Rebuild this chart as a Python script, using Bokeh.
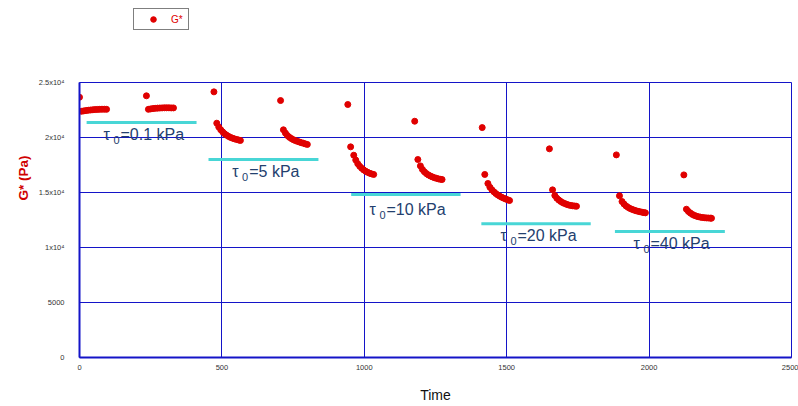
import math
from bokeh.plotting import figure
from bokeh.layouts import column
from bokeh.models import Range1d, FixedTicker, Legend, LegendItem, Title, ColumnDataSource
from bokeh.embed import file_html
from bokeh.resources import INLINE
from bokeh.core.properties import value

# ---- data: G* (Pa) vs time, ten creep/recovery steps ----
seg01_t = [0, 7, 15, 23, 31, 39, 47, 55, 63, 71, 79, 87, 95]
seg01_g = [23660, 22380, 22420, 22450, 22480, 22500, 22520, 22540, 22550, 22560, 22570, 22570, 22560]
seg02_t = [235, 242, 250, 258, 266, 274, 282, 290, 298, 306, 314, 322, 330]
seg02_g = [23790, 22560, 22600, 22630, 22650, 22670, 22680, 22690, 22700, 22700, 22700, 22690, 22690]
seg03_t = [472, 482, 489, 496, 503, 510, 517, 524, 531, 538, 545, 552, 559, 565]
seg03_g = [24150, 21300, 20950, 20700, 20500, 20330, 20200, 20090, 20000, 19930, 19870, 19820, 19770, 19730]
seg04_t = [706, 716, 723, 730, 737, 744, 751, 758, 765, 772, 779, 786, 793, 800]
seg04_g = [23360, 20700, 20400, 20180, 20020, 19900, 19800, 19720, 19650, 19590, 19530, 19480, 19420, 19370]
seg05_t = [942, 952, 963, 970, 977, 984, 991, 998, 1005, 1012, 1019, 1026, 1033]
seg05_g = [23000, 19150, 18390, 17950, 17620, 17380, 17200, 17050, 16930, 16830, 16750, 16690, 16640]
seg06_t = [1177, 1188, 1197, 1204, 1211, 1218, 1225, 1232, 1239, 1246, 1253, 1260, 1267, 1273]
seg06_g = [21480, 18000, 17420, 17100, 16880, 16720, 16600, 16500, 16420, 16350, 16290, 16240, 16200, 16180]
seg07_t = [1414, 1423, 1434, 1441, 1448, 1455, 1462, 1469, 1476, 1483, 1490, 1497, 1504, 1510]
seg07_g = [20900, 16640, 15820, 15480, 15250, 15060, 14900, 14770, 14660, 14560, 14480, 14400, 14330, 14270]
seg08_t = [1650, 1661, 1669, 1676, 1683, 1690, 1697, 1704, 1711, 1718, 1725, 1732, 1739, 1745]
seg08_g = [18970, 15240, 14730, 14480, 14310, 14180, 14070, 13990, 13920, 13860, 13820, 13790, 13770, 13750]
seg09_t = [1885, 1896, 1905, 1912, 1919, 1926, 1933, 1940, 1947, 1954, 1961, 1968, 1975, 1982, 1987]
seg09_g = [18420, 14700, 14180, 13950, 13780, 13650, 13550, 13470, 13400, 13340, 13290, 13250, 13210, 13170, 13150]
seg10_t = [2122, 2131, 2138, 2145, 2152, 2159, 2166, 2173, 2180, 2187, 2194, 2201, 2208, 2215, 2219]
seg10_g = [16600, 13480, 13280, 13130, 13010, 12920, 12850, 12800, 12760, 12730, 12710, 12690, 12680, 12670, 12660]

# stress level reference lines (tau_0)
tau_labels = ["0.1", "5", "10", "20", "40"]
tau_line_start = [25, 453, 954, 1411, 1880]
tau_line_end = [411, 839, 1338, 1795, 2266]
tau_line_g = [21360, 18000, 14820, 12150, 11450]
# label anchors (time, G*) for the tau_0 annotations
tau_label_t = [84, 536, 1018, 1478, 1945]
tau_label_g = [20270, 16940, 13450, 11090, 10360]

x_ticks = [0, 500, 1000, 1500, 2000, 2500]
y_ticks = [0, 5000, 10000, 15000, 20000, 25000]
y_tick_text = ["0", "5000", "1x10\u2074", "1.5x10\u2074", "2x10\u2074", "2.5x10\u2074"]

time_all = (seg01_t + seg02_t + seg03_t + seg04_t + seg05_t + seg06_t
            + seg07_t + seg08_t + seg09_t + seg10_t)
g_all = (seg01_g + seg02_g + seg03_g + seg04_g + seg05_g + seg06_g
         + seg07_g + seg08_g + seg09_g + seg10_g)

BLUE = "#1414c8"
RED = "#e00000"
TXT = "#23406e"
FONT = "Liberation Sans"

# ---------- legend strip (top); its frame is aligned with the main frame ----------
top = figure(width=798, height=36, output_backend="svg", toolbar_location=None,
             x_range=Range1d(0, 1), y_range=Range1d(0, 1),
             x_axis_location=None, y_axis_location=None,
             min_border=0, min_border_left=0, min_border_right=0,
             min_border_top=0, min_border_bottom=0)
top.outline_line_color = None
top.xgrid.visible = False
top.ygrid.visible = False
# a single off-range proxy point so the legend has a glyph to draw
leg_src = ColumnDataSource(dict(t=[5], g=[5]))
leg_pts = top.scatter("t", "g", source=leg_src, size=6, fill_color=RED, line_color=RED)
legend = Legend(items=[LegendItem(label="G*", renderers=[leg_pts])], location=(54, 6),
                border_line_color="black", border_line_width=1,
                label_text_color=RED, label_text_font=FONT, label_text_font_size="10px",
                padding=3, spacing=0, margin=0, glyph_width=32, glyph_height=14,
                label_standoff=2, label_height=14, label_width=14,
                background_fill_color="white", background_fill_alpha=1)
top.add_layout(legend)

# ---------- main plot ----------
p = figure(width=798, height=370, output_backend="svg", toolbar_location=None,
           x_range=Range1d(0, 2500), y_range=Range1d(0, 25000),
           min_border_left=79, min_border_right=7, min_border_top=46, min_border_bottom=49)
p.background_fill_color = "white"
p.border_fill_color = "white"
p.outline_line_color = BLUE
p.outline_line_width = 1

p.xaxis.ticker = FixedTicker(ticks=x_ticks)
p.yaxis.ticker = FixedTicker(ticks=y_ticks)
p.xgrid.ticker = FixedTicker(ticks=x_ticks)
p.ygrid.ticker = FixedTicker(ticks=y_ticks)
p.yaxis.major_label_overrides = {t: s for t, s in zip(y_ticks, y_tick_text)}
for ax in (p.xaxis[0], p.yaxis[0]):
    ax.axis_line_color = BLUE
    ax.axis_line_width = 2
    ax.major_tick_in = 0
    ax.major_tick_out = 0
    ax.minor_tick_in = 0
    ax.minor_tick_out = 0
    ax.major_label_text_font = FONT
    ax.major_label_text_font_size = "7.5px"
    ax.major_label_text_color = "#333333"
p.yaxis.major_label_standoff = 15
p.xaxis.major_label_standoff = 7
p.xaxis.axis_label = "Time"
p.xaxis.axis_label_text_font = FONT
p.xaxis.axis_label_text_font_size = "14px"
p.xaxis.axis_label_text_font_style = "normal"
p.xaxis.axis_label_text_color = "#111111"
p.xaxis.axis_label_standoff = 14

for g in (p.xgrid[0], p.ygrid[0]):
    g.grid_line_color = BLUE
    g.grid_line_alpha = 1.0
    g.grid_line_width = 1

# tau_0 reference lines
p.segment(x0=tau_line_start, y0=tau_line_g, x1=tau_line_end, y1=tau_line_g,
          line_color="#48d6d6", line_width=3)

# data points
src = ColumnDataSource(dict(t=time_all, g=g_all))
pts = p.scatter("t", "g", source=src, size=6, fill_color=RED, line_color=RED)

# tau_0 labels: tau, subscript 0, then "=... kPa"
sub_t = [t + 35 for t in tau_label_t]
sub_g = [g - 520 for g in tau_label_g]
eq_t = [t + 60 for t in tau_label_t]
p.text(x=tau_label_t, y=tau_label_g, text=["\u03c4"] * 5, text_font=value(FONT),
       text_font_size="16px", text_color=TXT, text_align="left", text_baseline="middle")
p.text(x=sub_t, y=sub_g, text=["0"] * 5, text_font=value(FONT),
       text_font_size="11px", text_color=TXT, text_align="left", text_baseline="middle")
p.text(x=eq_t, y=tau_label_g, text=["=" + s + " kPa" for s in tau_labels], text_font=value(FONT),
       text_font_size="16px", text_color=TXT, text_align="left", text_baseline="middle")

# y axis title placed near the top of the left side, like the reference
p.add_layout(Title(text="G* (Pa)", align="right", offset=73, text_color="#d00000",
                   text_font=FONT, text_font_size="13.5px", text_font_style="bold"), "left")

layout = column(top, p, spacing=0)
open("out.html", "w").write(file_html(layout, INLINE))
